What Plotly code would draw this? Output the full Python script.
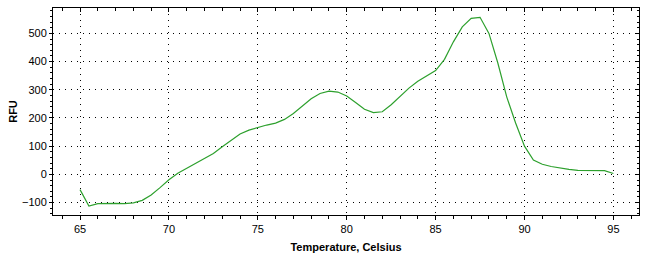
import plotly.graph_objects as go

temperature = [65.0, 65.5, 66.0, 66.5, 67.0, 67.5, 68.0, 68.5, 69.0, 69.5,
               70.0, 70.5, 71.0, 71.5, 72.0, 72.5, 73.0, 73.5, 74.0, 74.5,
               75.0, 75.5, 76.0, 76.5, 77.0, 77.5, 78.0, 78.5, 79.0, 79.5,
               80.0, 80.5, 81.0, 81.5, 82.0, 82.5, 83.0, 83.5, 84.0, 84.5,
               85.0, 85.5, 86.0, 86.5, 87.0, 87.5, 88.0, 88.5, 89.0, 89.5,
               90.0, 90.5, 91.0, 91.5, 92.0, 92.5, 93.0, 93.5, 94.0, 94.5, 95.0]
rfu = [-54, -112, -104, -103, -103, -104, -101, -92, -73, -47,
       -19, 4, 22, 38, 55, 74, 98, 122, 143, 157,
       167, 175, 182, 195, 216, 242, 268, 287, 295, 292,
       278, 255, 231, 219, 222, 247, 278, 306, 330, 350,
       368, 408, 470, 523, 553, 557, 500, 395, 275, 182,
       100, 51, 36, 28, 22, 18, 14, 13, 13, 13, 3]

x_ticks = [65, 70, 75, 80, 85, 90, 95]
y_ticks = [-100, 0, 100, 200, 300, 400, 500]
x_range = [63.48, 96.44]
y_range = [-144, 590]

font_family = "Liberation Sans, Arial, sans-serif"

fig = go.Figure()
fig.add_trace(go.Scatter(x=temperature, y=rfu, mode="lines",
                         line=dict(color="rgb(45,160,45)", width=1.2),
                         showlegend=False, hoverinfo="skip"))
fig.add_trace(go.Scatter(x=[], y=[], xaxis="x2", yaxis="y2", showlegend=False))

fig.update_layout(
    width=653, height=260,
    margin=dict(l=53, r=14, t=8, b=42),
    paper_bgcolor="white", plot_bgcolor="white",
    font=dict(family=font_family, size=11, color="black"),
    xaxis=dict(range=x_range, tickvals=x_ticks, ticks="outside", ticklen=4,
               tickcolor="black", showline=True, linecolor="black", linewidth=1,
               showgrid=True, gridcolor="black", gridwidth=1, griddash="1px,5px",
               zeroline=False,
               minor=dict(dtick=1, tick0=65, ticks="outside", ticklen=3, tickcolor="black", showgrid=False),
               title=dict(text="<b>Temperature, Celsius</b>", standoff=9, font=dict(size=11))),
    yaxis=dict(range=y_range, tickvals=y_ticks, ticks="outside", ticklen=3,
               tickcolor="black", showline=True, linecolor="black", linewidth=1,
               showgrid=True, gridcolor="black", gridwidth=1, griddash="1px,5px",
               zeroline=False, automargin=False,
               minor=dict(dtick=20, tick0=0, ticks="outside", ticklen=2, tickcolor="black", showgrid=False),
               title=dict(text="<b>RFU</b>", standoff=2, font=dict(size=11))),
    xaxis2=dict(range=x_range, overlaying="x", side="top", tickvals=x_ticks, ticks="inside",
                ticklen=4, tickcolor="black", showline=True, linecolor="black", linewidth=1,
                showticklabels=False, showgrid=False, zeroline=False,
                minor=dict(dtick=1, tick0=65, ticks="inside", ticklen=3, tickcolor="black", showgrid=False)),
    yaxis2=dict(range=y_range, overlaying="y", side="right", tickvals=y_ticks, ticks="inside",
                ticklen=4, tickcolor="black", showline=True, linecolor="black", linewidth=1,
                showticklabels=False, showgrid=False, zeroline=False,
                minor=dict(dtick=20, tick0=0, ticks="inside", ticklen=2, tickcolor="black", showgrid=False)),
)

fig.write_html("out.html")
